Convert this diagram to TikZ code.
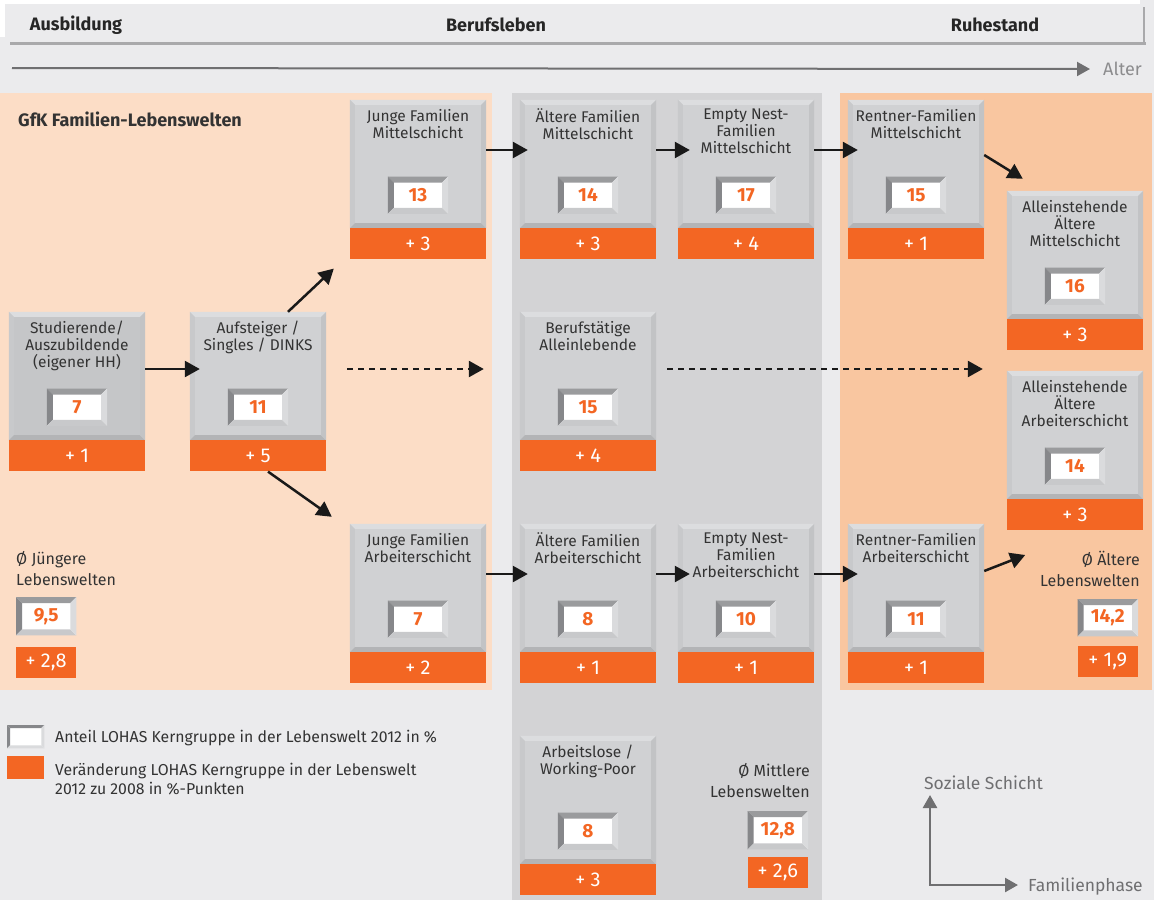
\documentclass[tikz,border=0pt]{standalone}
\usepackage{fontspec}
\setmainfont{Fira Sans}
\usetikzlibrary{arrows.meta,positioning}

\definecolor{lohasorange}{HTML}{F36623}
\definecolor{bggray}{HTML}{EBEBED}
\definecolor{peachlight}{HTML}{FCDDC6}
\definecolor{peachdark}{HTML}{F9C6A0}
\definecolor{midgray}{HTML}{D3D3D5}
\definecolor{cardface}{HTML}{D0D1D3}
\definecolor{studiface}{HTML}{C5C6C8}
\definecolor{cardtop}{HTML}{DCDDDF}
\definecolor{cardleft}{HTML}{C8C9CB}
\definecolor{cardright}{HTML}{C2C3C5}
\definecolor{cardbot}{HTML}{B3B4B6}
\definecolor{numtop}{HTML}{9A9B9D}
\definecolor{numleft}{HTML}{86878A}
\definecolor{numright}{HTML}{DADBDD}
\definecolor{numbot}{HTML}{C8C9CB}
\definecolor{textdark}{HTML}{333333}
\definecolor{axisgray}{HTML}{6F6F71}
\definecolor{linegray}{HTML}{A9A9AB}

\tikzset{
  % grey card, title on top, share in the middle
  cardbox/.style={minimum width=136pt,minimum height=128pt,inner sep=0pt,fill=cardface},
  cardtitle/.style={anchor=north,align=center,inner sep=0pt,text=textdark,font=\fontsize{15.5}{17}\selectfont},
  numbox/.style={minimum width=60pt,minimum height=37pt,inner sep=0pt,fill=white,text=lohasorange,font=\fontsize{19}{20}\selectfont\bfseries},
  changebar/.style={anchor=north,minimum width=136pt,minimum height=31pt,inner sep=0pt,fill=lohasorange,text=white,font=\fontsize{20}{20}\selectfont},
  avgtext/.style={inner sep=0pt,text=textdark,font=\fontsize{16}{21}\selectfont},
  phase/.style={inner sep=0pt,text=black!85,font=\fontsize{18}{20}\selectfont\bfseries},
  legendtext/.style={anchor=base west,inner sep=0pt,text=textdark,font=\fontsize{15.8}{18}\selectfont},
  % arrows between the life worlds
  flow/.style={draw=black!90,line width=2.5pt,-{Triangle[length=15pt,width=16pt]}},
  dotflow/.style={flow,dash pattern=on 6pt off 5pt},
  axis/.style={draw=axisgray,line width=2.5pt,-{Triangle[length=13pt,width=14pt]}},
}

% raised / sunken edge round a node
\newcommand{\bevel}[6]{%
  \fill[#3] (#1.north west) -- (#1.north east) -- ([xshift=-#2,yshift=-#2]#1.north east) -- ([xshift=#2,yshift=-#2]#1.north west) -- cycle;
  \fill[#4] (#1.north west) -- ([xshift=#2,yshift=-#2]#1.north west) -- ([xshift=#2,yshift=#2]#1.south west) -- (#1.south west) -- cycle;
  \fill[#5] (#1.south west) -- ([xshift=#2,yshift=#2]#1.south west) -- ([xshift=-#2,yshift=#2]#1.south east) -- (#1.south east) -- cycle;
  \fill[#6] (#1.south east) -- ([xshift=-#2,yshift=#2]#1.south east) -- ([xshift=-#2,yshift=-#2]#1.north east) -- (#1.north east) -- cycle;
}

% one life world: name, x, y, title, share, change
\newcommand{\card}[7][]{%
  \node[cardbox,#1] (#2) at (#3,#4) {};
  \bevel{#2}{5pt}{cardtop}{cardleft}{cardbot}{cardright}
  \node[cardtitle] (#2-t) at ([yshift=-9pt]#2.north) {#5};
  \node[numbox] (#2-n) at ([yshift=33pt]#2.south) {#6};
  \bevel{#2-n}{6pt}{numtop}{numleft}{numbot}{numright}
  \node[changebar] (#2-c) at (#2.south) {#7};
}

\begin{document}
\begin{tikzpicture}[x=1pt,y=-1pt]
\useasboundingbox (0,0) rectangle (1154,900);
\fill[bggray] (0,0) rectangle (1154,900);
\fill[white] (0,0) rectangle (1140,4);
\fill[white] (0,0) rectangle (5,37);
\draw[linegray,line width=3pt] (10,43) -- (1146,43);
\draw[linegray,line width=2pt] (1144,7) -- (1144,44);
\node[phase] (ausb) at (76,25) {Ausbildung};
\node[phase] (berufsleben) at (496,25) {Berufsleben};
\node[phase] (ruhe) at (995,25) {Ruhestand};
\coordinate (age0) at (12,68);
\node[anchor=west,inner sep=0pt,text=axisgray!80,font=\fontsize{18}{20}\selectfont] (alter) at (1103,69) {Alter};
\draw[axis,line width=2pt] (age0) -- ([xshift=-13pt]alter.west);

\fill[peachlight] (0,93) rectangle (492,690);
\fill[midgray] (512,93) rectangle (822,900);
\fill[peachdark] (840,93) rectangle (1152,690);
\node[anchor=base west,inner sep=0pt,text=textdark,font=\fontsize{18}{20}\selectfont\bfseries] (gfk) at (18,126) {GfK Familien-Lebenswelten};

\card[fill=studiface]{studi}{77}{376}{Studierende/\\Auszubildende\\(eigener HH)}{7}{+ 1}
\card{aufs}{258}{376}{Aufsteiger /\\Singles / DINKS}{11}{+ 5}
\card{jfm}{418}{164}{Junge Familien\\Mittelschicht}{13}{+ 3}
\card{jfa}{418}{588}{Junge Familien\\Arbeiterschicht}{7}{+ 2}
\card{afm}{588}{164}{Ältere Familien\\Mittelschicht}{14}{+ 3}
\card{enm}{746}{164}{Empty Nest-\\Familien\\Mittelschicht}{17}{+ 4}
\card{beruf}{588}{376}{Berufstätige\\Alleinlebende}{15}{+ 4}
\card{afa}{588}{588}{Ältere Familien\\Arbeiterschicht}{8}{+ 1}
\card{ena}{746}{588}{Empty Nest-\\Familien\\Arbeiterschicht}{10}{+ 1}
\card{arbl}{588}{800}{Arbeitslose /\\Working-Poor}{8}{+ 3}
\card{rfm}{916}{164}{Rentner-Familien\\Mittelschicht}{15}{+ 1}
\card{rfa}{916}{588}{Rentner-Familien\\Arbeiterschicht}{11}{+ 1}
\card{aem}{1075}{255}{Alleinstehende\\Ältere\\Mittelschicht}{16}{+ 3}
\card{aea}{1075}{435}{Alleinstehende\\Ältere\\Arbeiterschicht}{14}{+ 3}

\draw[flow] ([yshift=7pt]studi.east) -- ([xshift=10pt,yshift=7pt]aufs.west);
\draw[flow] ([xshift=30pt]aufs.north) -- ([xshift=-16pt,yshift=-9pt]jfm-c.south west);
\draw[flow] ([xshift=10pt]aufs-c.south) -- ([xshift=-18pt,yshift=7pt]jfa.north west);
\draw[dotflow] ([xshift=21pt,yshift=7pt]aufs.east) -- ([xshift=-36pt,yshift=7pt]beruf.west);
\draw[dotflow] ([xshift=11pt,yshift=7pt]beruf.east) -- ([xshift=-24pt,yshift=66pt]aea.west);
\draw[flow] ([yshift=14pt]jfm.east) -- ([xshift=8pt,yshift=14pt]afm.west);
\draw[flow] ([yshift=14pt]afm.east) -- ([xshift=12pt,yshift=14pt]enm.west);
\draw[flow] ([yshift=14pt]enm.east) -- ([xshift=10pt,yshift=14pt]rfm.west);
\draw[flow] ([yshift=9pt]rfm.east) -- ([xshift=16pt,yshift=12pt]aem.north west);
\draw[flow] ([yshift=14pt]jfa.east) -- ([xshift=8pt,yshift=14pt]afa.west);
\draw[flow] ([yshift=14pt]afa.east) -- ([xshift=12pt,yshift=14pt]ena.west);
\draw[flow] ([yshift=14pt]ena.east) -- ([xshift=10pt,yshift=14pt]rfa.west);
\draw[flow] ([yshift=17pt]rfa.east) -- ([xshift=41pt,yshift=33pt]rfa.east);

\node[avgtext,anchor=north west,align=left] (jung-t) at (16,551) {Ø Jüngere\\Lebenswelten};
\node[numbox,anchor=north west,minimum height=38pt] (jung-n) at (16,597) {9,5};
\bevel{jung-n}{6pt}{numtop}{numleft}{numbot}{numright}
\node[changebar,anchor=north west,minimum width=60pt] (jung-c) at (16,647) {+ 2,8};

\node[avgtext,anchor=north east,align=right] (mitt-t) at (810,763) {Ø Mittlere\\Lebenswelten};
\node[numbox,anchor=north east,minimum height=38pt] (mitt-n) at (808,811) {12,8};
\bevel{mitt-n}{6pt}{numtop}{numleft}{numbot}{numright}
\node[changebar,anchor=north east,minimum width=60pt] (mitt-c) at (808,857) {+ 2,6};

\node[avgtext,anchor=north east,align=right] (alt-t) at (1140,551) {Ø Ältere\\Lebenswelten};
\node[numbox,anchor=north east,minimum height=37pt] (alt-n) at (1138,599) {14,2};
\bevel{alt-n}{6pt}{numtop}{numleft}{numbot}{numright}
\node[changebar,anchor=north east,minimum width=60pt] (alt-c) at (1138,646) {+ 1,9};

\node[anchor=north west,minimum width=37pt,minimum height=23pt,inner sep=0pt,fill=white] (leg-w) at (7,725) {};
\bevel{leg-w}{3pt}{numleft}{numleft}{numright}{numright}
\node[anchor=north west,minimum width=37pt,minimum height=23pt,inner sep=0pt,fill=lohasorange] (leg-o) at (7,756) {};
\node[legendtext] (leg-wt) at (55,742) {Anteil LOHAS Kerngruppe in der Lebenswelt 2012 in \%};
\node[legendtext] (leg-ot) at (55,775) {Veränderung LOHAS Kerngruppe in der Lebenswelt};
\node[legendtext] (leg-ot2) at (55,794) {2012 zu 2008 in \%-Punkten};

\node[anchor=base west,inner sep=0pt,text=axisgray,font=\fontsize{17.5}{20}\selectfont] (soz) at (924,789) {Soziale Schicht};
\node[anchor=base west,inner sep=0pt,text=axisgray,font=\fontsize{17.5}{20}\selectfont] (fam) at (1028,891) {Familienphase};
\coordinate (axS) at (930,795);
\coordinate (axF) at (1018,885);
\draw[axis,{Triangle[length=13pt,width=14pt]}-{Triangle[length=13pt,width=14pt]}] (axS) |- (axF);
\end{tikzpicture}
\end{document}
